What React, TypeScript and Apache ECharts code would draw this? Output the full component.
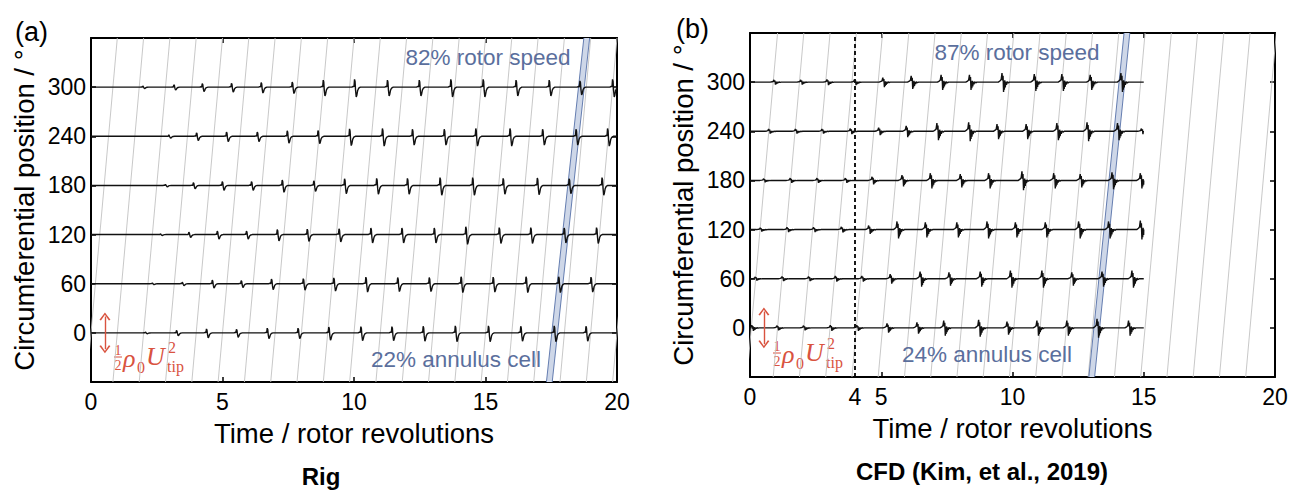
import React, { useEffect, useRef } from "react";
import * as echarts from "echarts";

// ---------- data ----------
const probeOffsets = [0, 60, 120, 180, 240, 300];
const rigXTicks = [0, 5, 10, 15, 20];
const cfdXLabels = [0, 4, 5, 10, 15, 20];
const cfdXTicks = [0, 5, 10, 15, 20];
const cfdEnd = 15;
const cfdMarker = 4;

// spike [time (rev), relative amplitude] per probe, Rig
const rigSpikes0 = [[2.1, 0.1], [3.28, 0.3], [4.42, 0.5], [5.56, 0.45], [6.73, 0.6], [7.9, 0.6], [9.07, 0.75], [10.29, 0.8], [11.47, 0.8], [12.66, 0.85], [13.88, 0.9], [15.14, 0.9], [16.37, 0.85], [17.64, 0.9], [18.85, 0.85]];
const rigSpikes60 = [[2.36, 0.1], [3.5, 0.2], [4.64, 0.45], [5.74, 0.4], [6.89, 0.6], [8.1, 0.65], [9.26, 0.75], [10.48, 0.85], [11.69, 0.8], [12.89, 0.8], [14.1, 0.9], [15.32, 0.85], [16.57, 0.9], [17.81, 0.9], [19.04, 0.85]];
const rigSpikes120 = [[2.67, 0.1], [3.75, 0.3], [4.83, 0.45], [5.94, 0.45], [7.11, 0.65], [8.25, 0.7], [9.46, 0.75], [10.67, 0.85], [11.85, 0.85], [13.08, 0.85], [14.28, 1], [15.55, 0.9], [16.75, 0.9], [18.02, 0.85], [19.25, 0.9]];
const rigSpikes180 = [[2.86, 0.15], [3.92, 0.35], [5.02, 0.5], [6.13, 0.5], [7.3, 0.7], [8.5, 0.6], [9.67, 0.85], [10.89, 0.9], [12.06, 0.9], [13.3, 1], [14.54, 1], [15.7, 0.9], [17.0, 0.95], [18.21, 0.85], [19.46, 1]];
const rigSpikes240 = [[2.99, 0.2], [4.04, 0.45], [5.18, 0.55], [6.35, 0.55], [7.49, 0.7], [8.66, 0.75], [9.86, 0.95], [11.11, 1], [12.25, 0.9], [13.46, 0.9], [14.66, 1], [15.96, 1], [17.2, 0.9], [18.47, 0.9], [19.67, 1]];
const rigSpikes300 = [[2.0, 0.15], [3.18, 0.3], [4.26, 0.45], [5.37, 0.5], [6.5, 0.6], [7.68, 0.65], [8.86, 0.9], [10.05, 1], [11.3, 0.9], [12.51, 0.9], [13.71, 1], [14.94, 1], [16.19, 0.9], [17.45, 0.9], [18.62, 0.8], [19.86, 1]];

// spike [time (rev), relative amplitude] per probe, CFD
const cfdSpikes0 = [[0.11, 0.3], [1.07, 0.25], [2.08, 0.25], [3.1, 0.3], [4.11, 0.3], [5.26, 0.5], [6.4, 0.6], [7.42, 0.8], [8.75, 0.9], [9.83, 0.7], [10.97, 0.8], [12.11, 0.8], [13.26, 1], [14.46, 0.8]];
const cfdSpikes60 = [[0.24, 0.2], [1.26, 0.25], [2.27, 0.25], [3.29, 0.3], [4.3, 0.3], [5.38, 0.5], [6.52, 0.8], [7.62, 0.7], [8.81, 0.8], [9.96, 0.9], [11.16, 0.9], [12.3, 0.7], [13.45, 0.8], [14.59, 0.9]];
const cfdSpikes120 = [[0.43, 0.2], [1.45, 0.25], [2.46, 0.25], [3.52, 0.3], [4.56, 0.45], [5.64, 0.9], [6.72, 0.8], [7.92, 0.8], [9.07, 0.9], [10.15, 0.8], [11.29, 0.8], [12.56, 0.9], [13.7, 0.9], [14.91, 1]];
const cfdSpikes180 = [[0.56, 0.2], [1.57, 0.25], [2.59, 0.25], [3.67, 0.25], [4.69, 0.4], [5.83, 0.6], [6.91, 0.8], [8.05, 0.7], [9.13, 0.8], [10.4, 1], [11.61, 0.8], [12.62, 0.7], [13.83, 0.9], [14.91, 0.8]];
const cfdSpikes240 = [[0.75, 0.25], [1.77, 0.25], [2.78, 0.25], [3.86, 0.3], [4.94, 0.4], [5.99, 0.6], [7.16, 0.9], [8.37, 1], [9.45, 0.8], [10.56, 0.8], [11.73, 0.9], [12.88, 1], [14.04, 0.9], [14.95, 0.3]];
const cfdSpikes300 = [[0.95, 0.25], [1.97, 0.25], [2.97, 0.3], [4.02, 0.3], [5.1, 0.5], [6.18, 0.7], [7.32, 0.8], [8.4, 0.8], [9.64, 1], [10.87, 0.9], [11.92, 0.9], [13.0, 0.8], [14.17, 1]];

const rigSpikes = [rigSpikes0, rigSpikes60, rigSpikes120, rigSpikes180, rigSpikes240, rigSpikes300];
const cfdSpikes = [cfdSpikes0, cfdSpikes60, cfdSpikes120, cfdSpikes180, cfdSpikes240, cfdSpikes300];

// rotor-frame reference lines: revolution at which each passes 0 deg
const rigRotorLines = [0, 1, 2, 3, 4, 5, 6, 7, 8, 9, 10, 11, 12, 13, 14, 15, 16, 17, 18, 19, 20];
const cfdRotorLines = [0.05, 1.05, 2.05, 3.05, 4.05, 5.05, 6.05, 7.05, 8.05, 9.05, 10.05, 11.05, 12.05, 13.05, 14.05, 15.05, 16.05, 17.05, 18.05, 19.05];

// stall cell band: [start rev at 0 deg, end rev at 0 deg, fraction of rotor speed]
const rigCellBand = [17.52, 17.74, 0.82];
const cfdCellBand = [13.1, 13.32, 0.87];

// red amplitude scale arrow (rev, deg from, deg to)
const scaleArrow = [0.53, -20, 20];

// spike shapes (offset in rev, relative value) -- drawing templates
const rigShape = [[-0.13, 0], [-0.08, 0.1], [-0.05, 0.05], [-0.03, 0.95], [-0.01, 0.7], [0.01, -0.4], [0.035, -1.2], [0.06, -0.95], [0.09, -0.4], [0.13, -0.12], [0.19, 0]];
const cfdShape = [[-0.18, 0], [-0.11, 0.15], [-0.07, 0.3], [-0.04, 1.0], [-0.02, 0.2], [0.0, 0.7], [0.02, -1.1], [0.035, 0.1], [0.05, -0.85], [0.065, 0.2], [0.085, -0.6], [0.105, 0.05], [0.13, -0.3], [0.16, 0.05], [0.2, -0.1], [0.24, 0]];
const rigScale = 10;
const cfdScale = 11;

const FONT = '"Liberation Sans", Arial, Helvetica, sans-serif';
const SERIF = '"Liberation Serif", "DejaVu Serif", serif';
const BLUE = "#5b6f9d";
const RED = "#d9533f";
const GRAY = "#c2c2c2";

function buildTrace(offset: number, spikes: number[][], tEnd: number, shape: number[][], scale: number) {
  const pts: number[][] = [[0, offset]];
  for (const [tc, a] of spikes) {
    for (const [dt, v] of shape) {
      const t = tc + dt;
      if (t > 0 && t < tEnd) pts.push([t, offset + v * a * scale]);
    }
  }
  pts.push([tEnd, offset]);
  return pts;
}

function xAxes(grid: number, labelVals: number[] | null, tickVals: number[], withName: boolean) {
  const common: any = {
    gridIndex: grid,
    type: "value",
    min: 0,
    max: 20,
    interval: 5,
    splitLine: { show: false },
    axisLine: { onZero: false, lineStyle: { color: "#000", width: 2 } },
    axisTick: { inside: true, length: 5, lineStyle: { color: "#000", width: 1.5 } },
  };
  const bottom: any = {
    ...common,
    position: "bottom",
    axisLabel: { color: "#000", fontSize: 23, fontFamily: FONT, margin: 8 },
  };
  if (labelVals) {
    bottom.axisLabel.customValues = labelVals;
    bottom.axisTick = { ...common.axisTick, customValues: tickVals };
  }
  if (withName) {
    Object.assign(bottom, {
      name: "Time / rotor revolutions",
      nameLocation: "middle",
      nameGap: 37,
      nameTextStyle: { color: "#000", fontSize: 27.5, fontFamily: FONT },
    });
  }
  const top: any = { ...common, position: "top", axisLabel: { show: false } };
  return [bottom, top];
}

function yAxes(grid: number) {
  const common: any = {
    gridIndex: grid,
    type: "value",
    min: -60,
    max: 360,
    interval: 60,
    splitLine: { show: false },
    axisLine: { onZero: false, lineStyle: { color: "#000", width: 2 } },
    axisTick: { inside: true, length: 5, lineStyle: { color: "#000", width: 1.5 } },
  };
  const left: any = {
    ...common,
    position: "left",
    axisLabel: {
      color: "#000",
      fontSize: 23,
      fontFamily: FONT,
      margin: 5,
      formatter: (v: number) => (v < 0 || v > 300 ? "" : String(v)),
    },
    name: "Circumferential position / °",
    nameLocation: "middle",
    nameGap: 53,
    nameTextStyle: { color: "#000", fontSize: 27.5, fontFamily: FONT },
  };
  const right: any = { ...common, position: "right", axisLabel: { show: false } };
  return [left, right];
}

const chevron = "path://M0,10 L5,0 L10,10 L8.6,10.9 L5,3.2 L1.4,10.9 Z";

function panelSeries(
  xi: number,
  yi: number,
  rotorLines: number[],
  band: number[],
  spikesList: number[][][],
  tEnd: number,
  shape: number[][],
  scale: number,
  marker: number | null
) {
  const s: any[] = [];
  rotorLines.forEach((k) => {
    s.push({
      type: "line",
      xAxisIndex: xi,
      yAxisIndex: yi,
      data: [[k - 60 / 360, -60], [k + 1, 360]],
      showSymbol: false,
      silent: true,
      clip: true,
      lineStyle: { color: GRAY, width: 0.9 },
      z: 1,
    });
  });
  s.push({
    type: "custom",
    xAxisIndex: xi,
    yAxisIndex: yi,
    coordinateSystem: "cartesian2d",
    silent: true,
    z: 2,
    encode: { x: [0, 1] },
    data: [band],
    renderItem: (params: any, api: any) => {
      const t0 = api.value(0);
      const t1 = api.value(1);
      const sp = api.value(2) * 360;
      const lo = -60;
      const hi = 360;
      const p = [
        api.coord([t0 + lo / sp, lo]),
        api.coord([t0 + hi / sp, hi]),
        api.coord([t1 + hi / sp, hi]),
        api.coord([t1 + lo / sp, lo]),
      ];
      return {
        type: "group",
        children: [
          { type: "polygon", shape: { points: p }, style: { fill: "#ced7e8", stroke: "none" } },
          { type: "line", shape: { x1: p[0][0], y1: p[0][1], x2: p[1][0], y2: p[1][1] }, style: { stroke: "#5670a8", lineWidth: 0.9 } },
          { type: "line", shape: { x1: p[3][0], y1: p[3][1], x2: p[2][0], y2: p[2][1] }, style: { stroke: "#5670a8", lineWidth: 0.9 } },
        ],
      };
    },
  });
  if (marker !== null) {
    s.push({
      type: "line",
      xAxisIndex: xi,
      yAxisIndex: yi,
      data: [[marker, -60], [marker, 360]],
      showSymbol: false,
      silent: true,
      lineStyle: { color: "#000", width: 1.8, type: [4, 3] },
      z: 3,
    });
  }
  probeOffsets.forEach((off, i) => {
    const ser: any = {
      type: "line",
      xAxisIndex: xi,
      yAxisIndex: yi,
      data: buildTrace(off, spikesList[i], tEnd, shape, scale),
      showSymbol: false,
      silent: true,
      lineStyle: { color: "#111", width: 1.4 },
      z: 4,
    };
    if (i === 0) {
      ser.markLine = {
        silent: true,
        symbol: [chevron, chevron],
        symbolSize: [11, 8],
        label: { show: false },
        lineStyle: { color: RED, width: 1.4, type: "solid" },
        data: [[{ coord: [scaleArrow[0], scaleArrow[1]] }, { coord: [scaleArrow[0], scaleArrow[2]] }]],
      };
    }
    s.push(ser);
  });
  return s;
}

function mathGroup(dx: number, dy: number) {
  const small = `14px ${SERIF}`;
  const sub = `16px ${SERIF}`;
  const big = `italic 26px ${SERIF}`;
  return {
    type: "group",
    x: dx,
    y: dy,
    silent: true,
    children: [
      { type: "text", x: 118, y: 350, style: { text: "1", font: small, fill: RED, align: "center", verticalAlign: "middle" } },
      { type: "line", shape: { x1: 114, y1: 357, x2: 122, y2: 357 }, style: { stroke: RED, lineWidth: 1 } },
      { type: "text", x: 118, y: 365, style: { text: "2", font: small, fill: RED, align: "center", verticalAlign: "middle" } },
      { type: "text", x: 123, y: 358, style: { text: "ρ", font: big, fill: RED, align: "left", verticalAlign: "middle" } },
      { type: "text", x: 137, y: 367, style: { text: "0", font: sub, fill: RED, align: "left", verticalAlign: "middle" } },
      { type: "text", x: 146, y: 356, style: { text: "U", font: big, fill: RED, align: "left", verticalAlign: "middle" } },
      { type: "text", x: 168, y: 347, style: { text: "2", font: sub, fill: RED, align: "left", verticalAlign: "middle" } },
      { type: "text", x: 167, y: 366, style: { text: "tip", font: sub, fill: RED, align: "left", verticalAlign: "middle" } },
    ],
  };
}

function label(text: string, x: number, y: number, fill: string, font: string, align = "center") {
  return { type: "text", x, y, silent: true, z: 10, style: { text, font, fill, align, verticalAlign: "middle" } };
}

export default function App() {
  const ref = useRef<HTMLDivElement>(null);
  useEffect(() => {
    if (!ref.current) return;
    const chart = echarts.init(ref.current, null, { renderer: "svg" });
    const [lxb, lxt] = xAxes(0, null, rigXTicks, true);
    const [rxb, rxt] = xAxes(1, cfdXLabels, cfdXTicks, true);
    const [lyl, lyr] = yAxes(0);
    const [ryl, ryr] = yAxes(1);
    chart.setOption({
      animation: false,
      backgroundColor: "#fff",
      grid: [
        { left: 91, top: 38, width: 526, height: 344, outerBoundsMode: "none", containLabel: false },
        { left: 750, top: 33, width: 525, height: 344, outerBoundsMode: "none", containLabel: false },
      ],
      xAxis: [lxb, lxt, rxb, rxt],
      yAxis: [lyl, lyr, ryl, ryr],
      series: [
        ...panelSeries(0, 0, rigRotorLines, rigCellBand, rigSpikes, 20, rigShape, rigScale, null),
        ...panelSeries(2, 2, cfdRotorLines, cfdCellBand, cfdSpikes, cfdEnd, cfdShape, cfdScale, cfdMarker),
      ],
      graphic: [
        label("(a)", 15, 32, "#000", `27px ${FONT}`, "left"),
        label("(b)", 676, 29, "#000", `27px ${FONT}`, "left"),
        label("82% rotor speed", 488, 57, BLUE, `22.5px ${FONT}`),
        label("22% annulus cell", 456, 359, BLUE, `22.5px ${FONT}`),
        label("87% rotor speed", 1017, 52, BLUE, `22.5px ${FONT}`),
        label("24% annulus cell", 987, 354, BLUE, `22.5px ${FONT}`),
        label("Rig", 321, 476, "#000", `bold 24px ${FONT}`),
        label("CFD (Kim, et al., 2019)", 982, 471, "#000", `bold 24px ${FONT}`),
        mathGroup(0, 0),
        mathGroup(659, -4),
      ],
    });
    return () => chart.dispose();
  }, []);
  return (
    <div
      ref={ref}
      style={{ position: "fixed", left: 0, top: 0, width: 1296, height: 490, background: "#fff" }}
    />
  );
}
